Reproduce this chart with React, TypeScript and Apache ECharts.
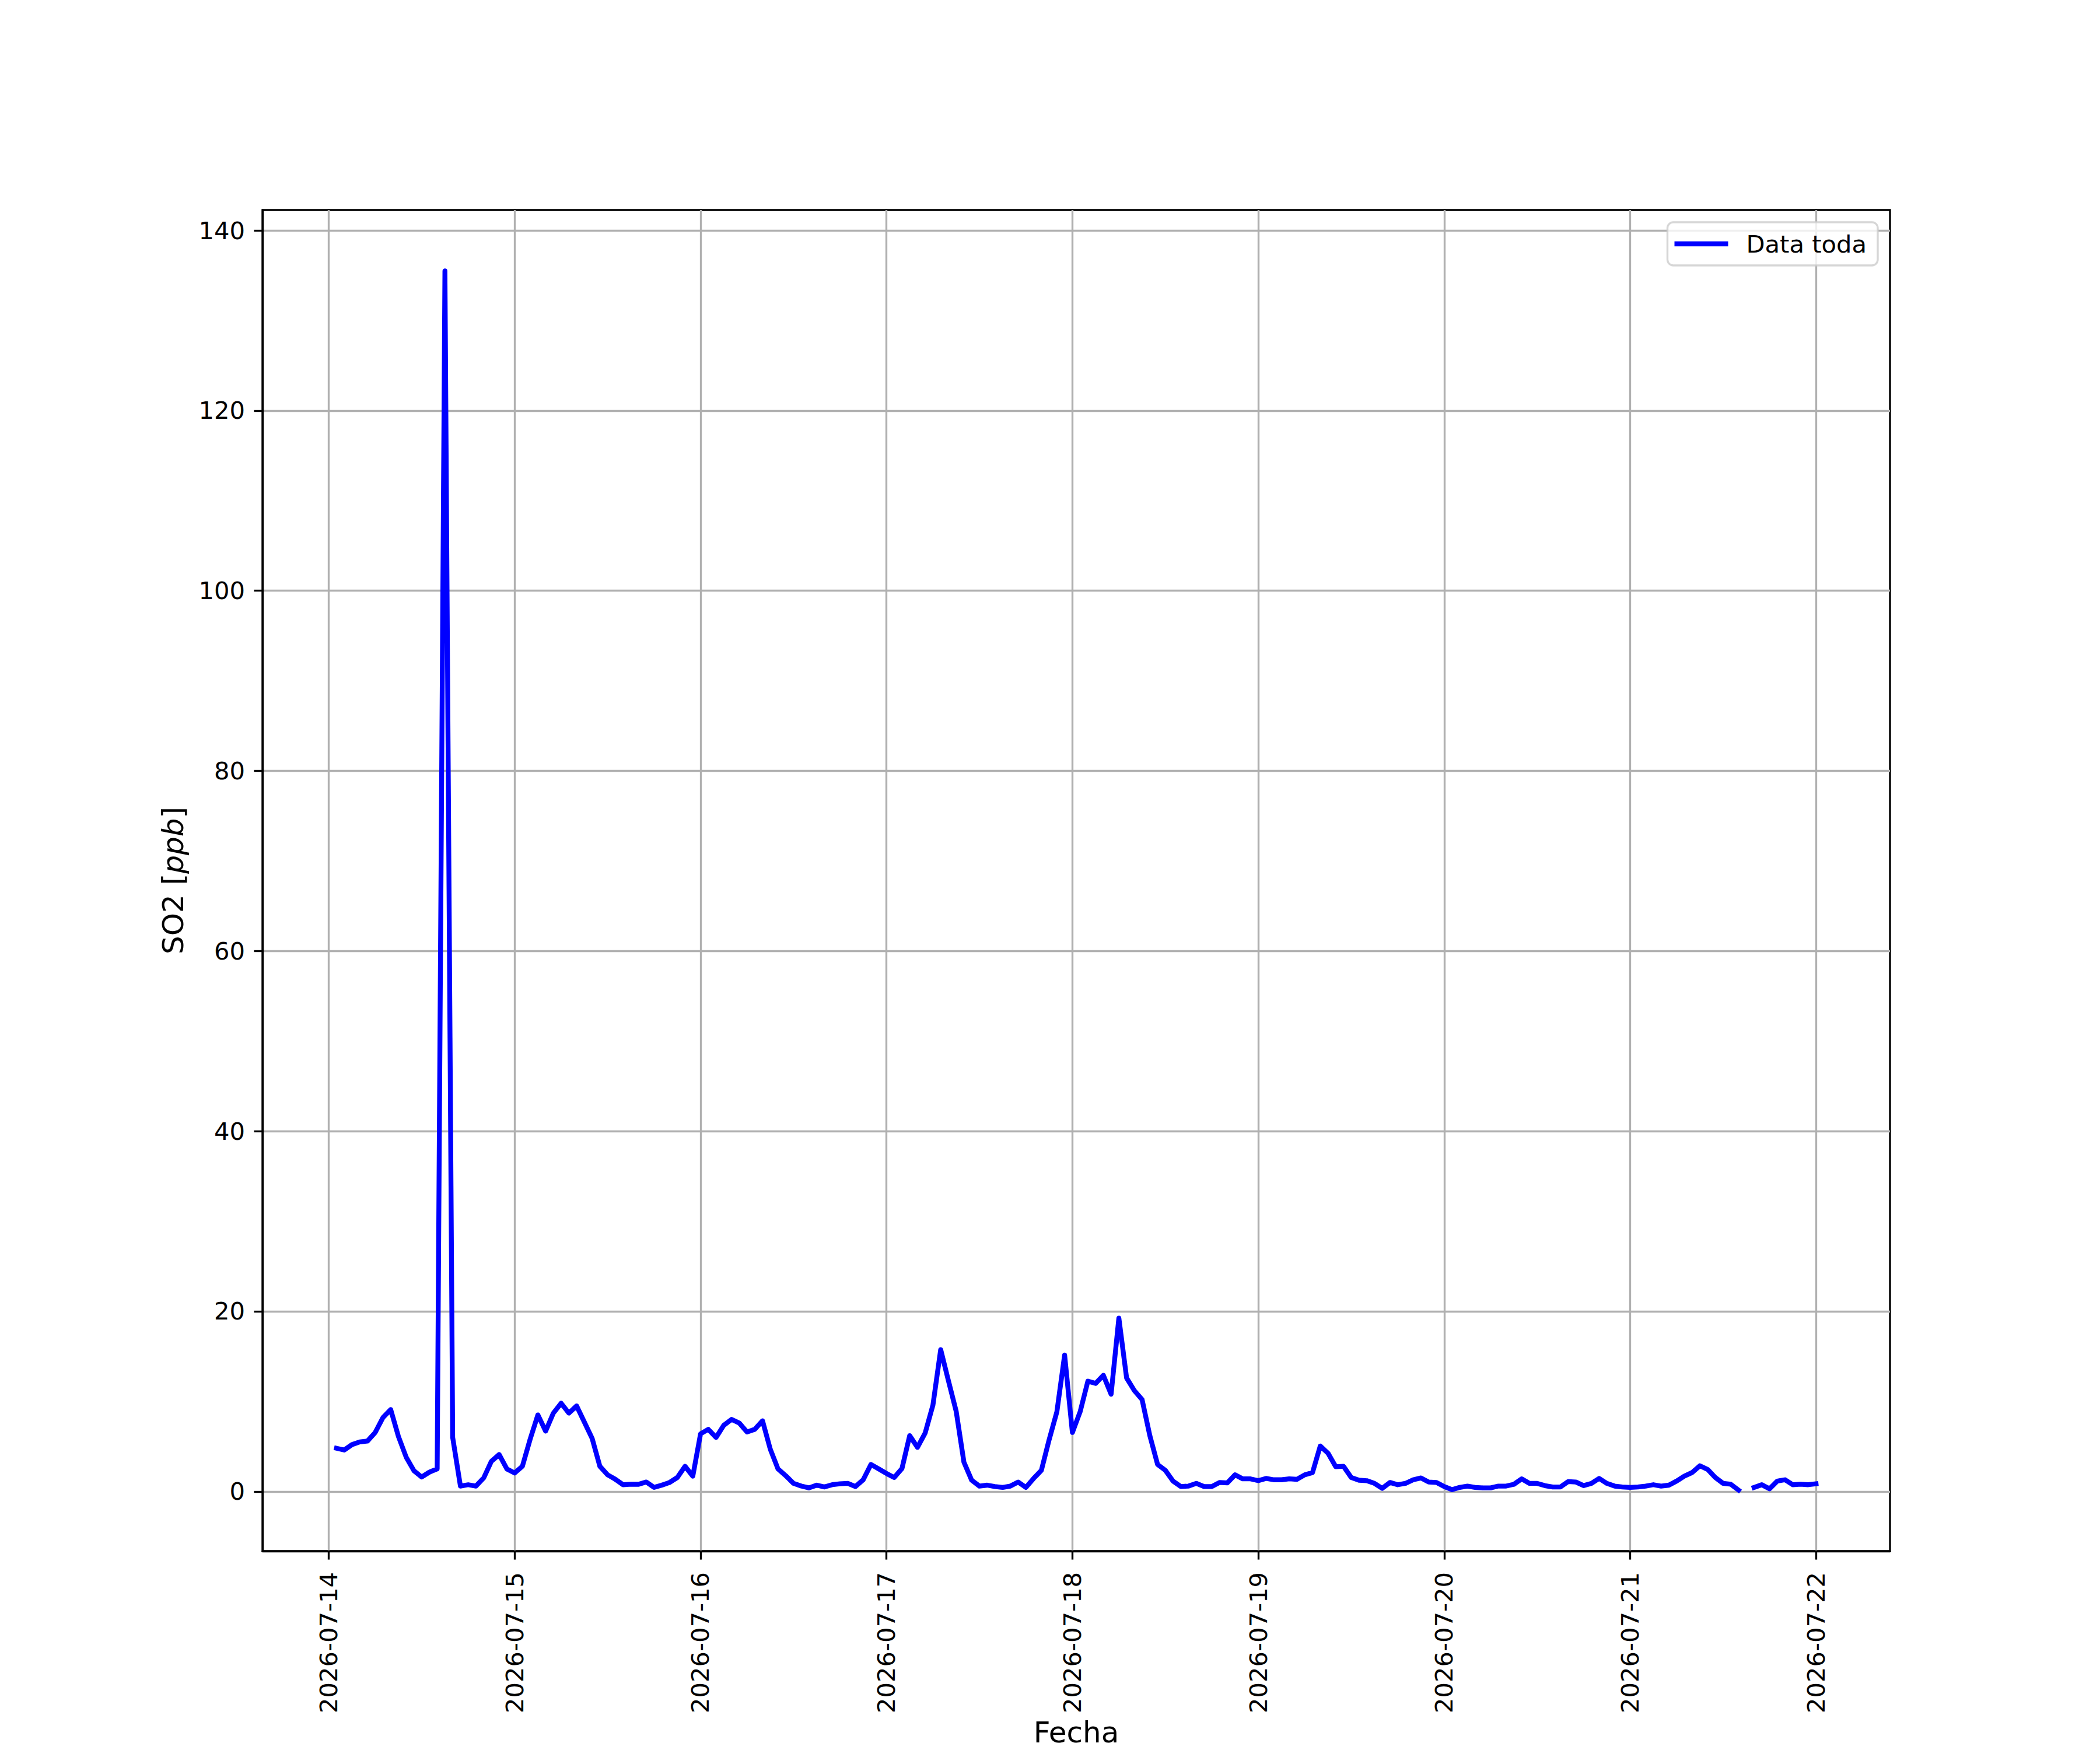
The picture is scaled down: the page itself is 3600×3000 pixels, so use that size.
import { useEffect, useRef } from 'react';
import * as echarts from 'echarts';

// SO2 horario (ppb), 2026-07-14 01:00 -> 2026-07-22 00:00
const START = Date.UTC(2026, 6, 14, 1);
const HOUR = 3600 * 1000;

const so2Jul14 = [
  4.8, 4.6, 5.2, 5.5, 5.6, 6.55, 8.2, 9.1, 6.1, 3.8, 2.3, 1.6, 2.15, 2.5, 135.5, 6.0, 0.6, 0.75, 0.6, 1.5,
  3.35, 4.1, 2.5,
];
const so2Jul15 = [
  2.05, 2.8, 5.8, 8.5, 6.7, 8.7, 9.8, 8.7, 9.5, 7.7, 5.9, 2.8, 1.85, 1.35, 0.75, 0.8, 0.8, 1.05, 0.45, 0.7,
  1.0, 1.55, 2.8, 1.7,
];
const so2Jul16 = [
  6.4, 6.9, 6.0, 7.35, 8.0, 7.6, 6.6, 6.9, 7.85, 4.7, 2.5, 1.75, 0.9, 0.6, 0.4, 0.7, 0.5, 0.75, 0.85, 0.9,
  0.55, 1.3, 3.0, 2.5,
];
const so2Jul17 = [
  2.0, 1.55, 2.55, 6.2, 4.9, 6.5, 9.6, 15.75, 12.3, 8.9, 3.25, 1.25, 0.6, 0.7, 0.55, 0.45, 0.6, 1.05, 0.45,
  1.45, 2.35, 5.75, 8.85, 15.15,
];
const so2Jul18 = [
  6.55, 8.85, 12.25, 12.0, 12.9, 10.8, 19.25, 12.6, 11.2, 10.2, 6.2, 3.0, 2.35, 1.15, 0.55, 0.6, 0.9, 0.55,
  0.55, 1.0, 0.95, 1.85, 1.4, 1.4,
];
const so2Jul19 = [
  1.2, 1.45, 1.3, 1.3, 1.4, 1.35, 1.85, 2.1, 5.05, 4.25, 2.75, 2.8, 1.55, 1.25, 1.2, 0.9, 0.35, 1.0, 0.75,
  0.9, 1.3, 1.5, 1.05, 1.0,
];
const so2Jul20 = [
  0.55, 0.2, 0.45, 0.6, 0.45, 0.4, 0.4, 0.6, 0.6, 0.8, 1.4, 0.9, 0.9, 0.65, 0.5, 0.5, 1.1, 1.05, 0.65, 0.9,
  1.45, 0.9, 0.6, 0.5,
];
const so2Jul21 = [
  0.45, 0.5, 0.6, 0.75, 0.6, 0.7, 1.15, 1.7, 2.1, 2.85, 2.45, 1.55, 0.9, 0.8, 0.15, null, 0.45, 0.75, 0.3,
  1.15, 1.3, 0.75, 0.8, 0.75,
];
const so2Jul22 = [0.85];

const dayTicks = [
  '2026-07-14', '2026-07-15', '2026-07-16', '2026-07-17', '2026-07-18',
  '2026-07-19', '2026-07-20', '2026-07-21', '2026-07-22',
];
const yTicks = [0, 20, 40, 60, 80, 100, 120, 140];

const PT = 300 / 72; // px por punto (figura a 300 dpi)
const FONT = 'DejaVu Sans';

const pad = (n: number) => String(n).padStart(2, '0');
const fmtDay = (v: number) => {
  const d = new Date(v);
  return `${d.getUTCFullYear()}-${pad(d.getUTCMonth() + 1)}-${pad(d.getUTCDate())}`;
};

export default function App() {
  const ref = useRef<HTMLDivElement>(null);

  useEffect(() => {
    if (!ref.current) return;
    document.body.style.margin = '0';
    const chart = echarts.init(ref.current, null, { renderer: 'svg' });

    const values = [
      ...so2Jul14, ...so2Jul15, ...so2Jul16, ...so2Jul17, ...so2Jul18,
      ...so2Jul19, ...so2Jul20, ...so2Jul21, ...so2Jul22,
    ];
    const data = values.map((v, i) => [START + i * HOUR, v]);
    const dayValues = dayTicks.map((d) => Date.parse(`${d}T00:00:00Z`));

    const axisLine = { show: true, onZero: false, lineStyle: { color: '#000', width: 0.8 * PT } };
    const axisTick = { show: true, length: 3.5 * PT, lineStyle: { color: '#000', width: 0.8 * PT } };
    const splitLine = { show: true, lineStyle: { color: '#b0b0b0', width: 0.8 * PT } };
    const tickFont = { fontSize: 10 * PT, fontFamily: FONT, color: '#000' };
    // margen del 5% como en matplotlib
    const margin5 = (v: { min: number; max: number }) => [
      v.min - 0.05 * (v.max - v.min),
      v.max + 0.05 * (v.max - v.min),
    ];

    chart.setOption({
      animation: false,
      backgroundColor: '#fff',
      grid: {
        left: 450,
        right: 360,
        top: 360,
        bottom: 330,
        show: true,
        borderColor: '#000',
        borderWidth: 0.8 * PT,
        backgroundColor: 'transparent',
      },
      legend: {
        data: ['Data toda'],
        right: 381,
        top: 381,
        icon: 'rect',
        itemWidth: 92,
        itemHeight: 2 * PT,
        padding: [16, 19, 16, 12],
        backgroundColor: 'rgba(255,255,255,0.8)',
        borderColor: 'rgba(204,204,204,0.8)',
        borderWidth: 0.8 * PT,
        borderRadius: 10,
        textStyle: { ...tickFont, padding: [0, 0, 0, 26] },
      },
      xAxis: {
        type: 'value',
        scale: true,
        min: (v: { min: number; max: number }) => margin5(v)[0],
        max: (v: { min: number; max: number }) => margin5(v)[1],
        axisLine,
        axisTick: { ...axisTick, customValues: dayValues },
        axisLabel: {
          ...tickFont,
          customValues: dayValues,
          rotate: 90,
          margin: 36,
          hideOverlap: false,
          formatter: (v: number) => fmtDay(v),
        },
        splitLine,
        name: 'Fecha',
        nameLocation: 'middle',
        nameGap: 286,
        nameTextStyle: { fontSize: 12 * PT, fontFamily: FONT, color: '#000' },
      },
      yAxis: {
        type: 'value',
        min: (v: { min: number; max: number }) => margin5(v)[0],
        max: (v: { min: number; max: number }) => margin5(v)[1],
        axisLine,
        axisTick: { ...axisTick, customValues: yTicks },
        axisLabel: { ...tickFont, customValues: yTicks, margin: 30 },
        splitLine,
        name: '{n|SO2 [}{i|ppb}{n|]}',
        nameLocation: 'middle',
        nameRotate: 90,
        nameGap: 128,
        nameTextStyle: {
          fontSize: 12 * PT,
          fontFamily: FONT,
          color: '#000',
          rich: {
            n: { fontSize: 12 * PT, fontFamily: FONT, color: '#000' },
            i: { fontSize: 12 * PT, fontFamily: FONT, color: '#000', fontStyle: 'italic' },
          },
        },
      },
      series: [
        {
          type: 'line',
          name: 'Data toda',
          data,
          showSymbol: false,
          symbol: 'none',
          connectNulls: false,
          color: '#0000ff',
          itemStyle: { color: '#0000ff' },
          lineStyle: { color: '#0000ff', width: 2 * PT, join: 'round', cap: 'square' },
        },
      ],
    });

    return () => {
      chart.dispose();
    };
  }, []);

  return <div ref={ref} style={{ width: 3600, height: 3000 }} />;
}
